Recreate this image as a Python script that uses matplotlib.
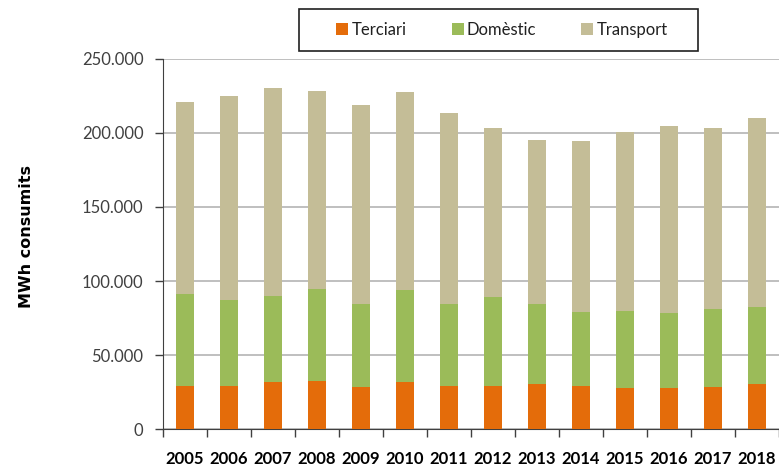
import matplotlib.pyplot as plt
import numpy as np
from matplotlib.patches import Rectangle
from matplotlib.ticker import FuncFormatter

years = [str(y) for y in range(2005, 2019)]
terciari = [29300, 29300, 31500, 32400, 28400, 31800, 29300, 29300, 30200, 29300, 27900, 27900, 28600, 30200]
domestic = [61700, 58100, 58400, 62200, 55800, 61900, 55200, 59700, 54000, 49500, 51800, 50300, 52700, 52500]
transport = [130200, 137600, 140700, 133800, 134500, 133800, 128800, 114200, 111100, 115600, 120800, 126500, 121900, 127400]

colors = ['#E46C0A', '#9BBB59', '#C4BD97']
labels = ['Terciari', 'Domèstic', 'Transport']

plt.rcParams['font.family'] = ['Lato', 'DejaVu Sans']

fig = plt.figure(figsize=(7.79, 4.70), dpi=100)
ax = fig.add_axes([0.2092, 0.0872, 0.7908, 0.7873])

x = np.arange(len(years))
w = 0.4
b1 = np.array(terciari)
b2 = b1 + np.array(domestic)
ax.bar(x, terciari, w, color=colors[0], label=labels[0], zorder=3)
ax.bar(x, domestic, w, bottom=b1, color=colors[1], label=labels[1], zorder=3)
ax.bar(x, transport, w, bottom=b2, color=colors[2], label=labels[2], zorder=3)

ax.set_ylim(0, 250000)
ax.set_yticks(np.arange(0, 250001, 50000))
ax.yaxis.set_major_formatter(FuncFormatter(lambda v, p: f"{int(v):,}".replace(",", ".")))
ax.yaxis.grid(True, color='#BFBFBF', lw=1.4, zorder=0)
ax.set_xlim(-0.5, 13.36)

ax.set_xticks(x)
ax.set_xticklabels(years, fontweight='bold', fontsize=12)
ax.set_xticks(np.arange(-0.5, 14, 1), minor=True)
ax.tick_params(axis='x', which='major', length=0, pad=16)
ax.tick_params(axis='x', which='minor', length=6, width=1, color='#404040', direction='out')
ax.tick_params(axis='y', length=6, width=1, color='#404040', labelsize=12, labelcolor='#404040', pad=8)

for s in ['top', 'right']:
    ax.spines[s].set_visible(False)
ax.spines['left'].set_color('#404040')
ax.spines['bottom'].set_color('#404040')

fig.text(27 / 779, 0.497, 'MWh consumits', rotation=90, ha='center', va='center',
         fontweight='bold', fontsize=11.5, family='DejaVu Sans')

# legend box
fig.patches.append(Rectangle((299 / 779, 1 - 51 / 470), 399 / 779, 42 / 470,
                             transform=fig.transFigure, fill=False,
                             edgecolor='#202020', lw=1.2))
leg = fig.legend(loc='center', bbox_to_anchor=(502 / 779, 1 - 30 / 470), ncol=3, frameon=False,
                 fontsize=12, handlelength=0.72, handleheight=0.72, handletextpad=0.2,
                 columnspacing=2.7, borderaxespad=0)
for t in leg.get_texts():
    t.set_color('#202020')

fig.savefig('out.png', dpi=100)
